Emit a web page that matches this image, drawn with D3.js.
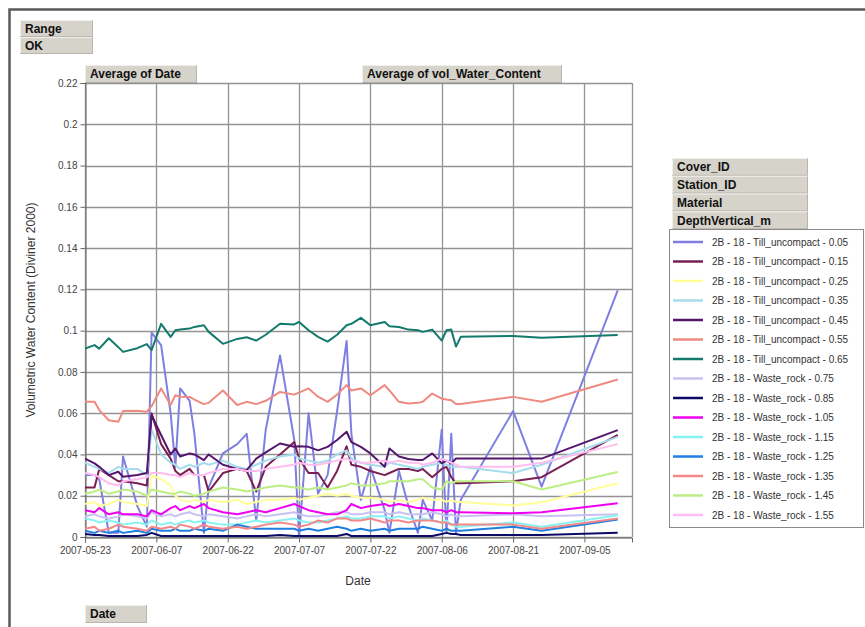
<!DOCTYPE html>
<html><head><meta charset="utf-8">
<script src="https://cdn.jsdelivr.net/npm/d3@7"></script>
<style>
body{margin:0;background:#fff}
svg{display:block;font-family:Arial,"Liberation Sans",sans-serif}
</style>
</head><body>
<svg id="c" width="865" height="627"></svg>
<script>
// ---------- DATA ----------
const dates = ["2007-05-23","2007-05-25","2007-05-26","2007-05-28","2007-05-30","2007-05-31","2007-06-03","2007-06-05","2007-06-06","2007-06-08",
"2007-06-10","2007-06-11","2007-06-12","2007-06-14","2007-06-15","2007-06-17","2007-06-18","2007-06-21","2007-06-24","2007-06-26",
"2007-06-28","2007-06-30","2007-07-03","2007-07-06","2007-07-07","2007-07-09","2007-07-11","2007-07-13","2007-07-15","2007-07-17",
"2007-07-18","2007-07-20","2007-07-22","2007-07-25","2007-07-26","2007-07-28","2007-07-30","2007-08-01","2007-08-02","2007-08-04",
"2007-08-06","2007-08-07","2007-08-08","2007-08-09","2007-08-10","2007-08-21","2007-08-27","2007-09-12"];

const seriesNames = ["2B - 18 - Till_uncompact - 0.05","2B - 18 - Till_uncompact - 0.15","2B - 18 - Till_uncompact - 0.25",
"2B - 18 - Till_uncompact - 0.35","2B - 18 - Till_uncompact - 0.45","2B - 18 - Till_uncompact - 0.55","2B - 18 - Till_uncompact - 0.65",
"2B - 18 - Waste_rock - 0.75","2B - 18 - Waste_rock - 0.85","2B - 18 - Waste_rock - 1.05","2B - 18 - Waste_rock - 1.15",
"2B - 18 - Waste_rock - 1.25","2B - 18 - Waste_rock - 1.35","2B - 18 - Waste_rock - 1.45","2B - 18 - Waste_rock - 1.55"];

const seriesColors = ["#7f7fe2","#7a1f52","#ffff99","#a6dcec","#55166e","#ef8a80","#137a6c",
"#c7c2f2","#0b0b66","#f000f0","#88f2f2","#1f7fe0","#f28888","#bdee84","#ffbdf0"];

const v005 = [0.030,0.030,0.028,0.002,0.002,0.039,0.015,0.005,0.099,0.093,0.060,0.034,0.072,0.066,0.050,0.002,0.024,0.0405,0.045,0.050,
0.008,0.052,0.088,0.047,0.000,0.060,0.021,0.030,0.061,0.095,0.050,0.018,0.034,0.013,0.002,0.032,0.015,0.002,0.018,0.008,
0.052,0.002,0.050,0.002,0.018,0.061,0.0244,0.1195];
const v015 = [0.024,0.024,0.033,0.030,0.027,0.027,0.026,0.025,0.060,0.045,0.038,0.032,0.030,0.033,0.030,0.030,0.022,0.031,0.033,0.032,
0.022,0.034,0.040,0.046,0.038,0.031,0.031,0.024,0.032,0.044,0.035,0.034,0.032,0.030,0.031,0.033,0.033,0.032,0.033,0.029,
0.033,0.034,0.029,0.026,0.026,0.027,0.029,0.0495];
const v025 = [0.016,0.017,0.015,0.016,0.018,0.017,0.016,0.015,0.030,0.028,0.025,0.020,0.018,0.017,0.018,0.017,0.018,0.017,0.018,0.016,
0.017,0.018,0.018,0.019,0.018,0.019,0.020,0.021,0.020,0.021,0.020,0.019,0.019,0.018,0.017,0.018,0.017,0.018,0.019,0.018,
0.018,0.017,0.018,0.017,0.017,0.0153,0.0168,0.026];
const v035 = [0.036,0.034,0.033,0.031,0.034,0.033,0.033,0.030,0.052,0.040,0.036,0.035,0.033,0.035,0.034,0.036,0.035,0.037,0.034,0.033,
0.035,0.037,0.039,0.040,0.038,0.037,0.036,0.037,0.040,0.042,0.038,0.036,0.035,0.034,0.036,0.035,0.034,0.033,0.034,0.035,
0.036,0.035,0.034,0.034,0.034,0.031,0.035,0.0485];
const v045 = [0.038,0.0357,0.034,0.030,0.0316,0.0292,0.030,0.031,0.059,0.0494,0.040,0.0429,0.039,0.0405,0.040,0.0373,0.040,0.035,0.033,0.0324,
0.038,0.041,0.0453,0.0437,0.044,0.0437,0.042,0.0437,0.047,0.051,0.046,0.0437,0.0405,0.034,0.0429,0.039,0.0378,0.0373,0.0373,0.0405,
0.0357,0.037,0.0357,0.038,0.038,0.038,0.038,0.0518];
const v055 = [0.0655,0.0655,0.0615,0.0566,0.0558,0.061,0.0612,0.0607,0.0634,0.072,0.064,0.0687,0.068,0.0679,0.0666,0.0644,0.065,0.071,0.064,0.0655,
0.0644,0.066,0.0703,0.069,0.070,0.072,0.068,0.0655,0.069,0.0736,0.071,0.072,0.0687,0.0736,0.071,0.0655,0.0647,0.065,0.0655,0.0695,
0.067,0.0666,0.0663,0.0644,0.0644,0.0679,0.0655,0.0763];
const v065 = [0.0913,0.093,0.0913,0.0963,0.092,0.0897,0.0915,0.0935,0.0905,0.1033,0.097,0.1002,0.1005,0.101,0.1018,0.1026,0.0994,0.0936,0.096,0.0968,
0.0952,0.098,0.1033,0.103,0.1042,0.1002,0.097,0.0947,0.098,0.1026,0.1033,0.1062,0.1026,0.1042,0.1021,0.1018,0.1005,0.1002,0.0994,0.1005,
0.0952,0.1002,0.1005,0.0923,0.097,0.0974,0.0966,0.0979];
const v075 = [0.010,0.011,0.010,0.009,0.010,0.011,0.010,0.009,0.012,0.010,0.011,0.010,0.011,0.012,0.011,0.010,0.011,0.010,0.009,0.010,
0.011,0.010,0.011,0.012,0.011,0.010,0.010,0.011,0.012,0.012,0.011,0.011,0.012,0.012,0.011,0.012,0.011,0.011,0.011,0.012,
0.011,0.010,0.011,0.010,0.010,0.011,0.010,0.011];
const v085 = [0.0015,0.001,0.001,0.0005,0.0005,0.0005,0.0005,0.001,0.002,0.0005,0.0005,0.0005,0.0005,0.0005,0.0005,0.0005,0.0005,0.0005,0.0005,0.0005,
0.0005,0.0005,0.001,0.0005,0.0005,0.0005,0.0005,0.0005,0.0005,0.0015,0.0005,0.0005,0.0005,0.0005,0.0005,0.0005,0.0005,0.0005,0.0005,0.0005,
0.0015,0.002,0.0015,0.0015,0.001,0.001,0.001,0.002];
const v105 = [0.013,0.012,0.014,0.011,0.012,0.011,0.011,0.010,0.013,0.011,0.014,0.015,0.013,0.015,0.014,0.016,0.014,0.012,0.011,0.012,
0.013,0.012,0.014,0.016,0.015,0.013,0.012,0.011,0.011,0.013,0.016,0.014,0.015,0.016,0.015,0.016,0.015,0.014,0.014,0.013,
0.013,0.012,0.013,0.012,0.012,0.0115,0.012,0.0163];
const v115 = [0.009,0.008,0.007,0.008,0.007,0.006,0.007,0.006,0.008,0.006,0.007,0.006,0.007,0.008,0.007,0.008,0.007,0.006,0.006,0.007,
0.008,0.007,0.008,0.009,0.008,0.007,0.007,0.008,0.009,0.010,0.009,0.009,0.010,0.010,0.009,0.010,0.009,0.008,0.009,0.008,
0.007,0.008,0.006,0.005,0.005,0.007,0.005,0.0105];
const v125 = [0.003,0.002,0.003,0.002,0.003,0.002,0.003,0.002,0.004,0.003,0.003,0.004,0.003,0.003,0.004,0.003,0.004,0.003,0.006,0.005,
0.004,0.004,0.004,0.004,0.003,0.004,0.003,0.004,0.005,0.004,0.003,0.004,0.003,0.004,0.003,0.004,0.004,0.004,0.005,0.004,
0.003,0.004,0.003,0.003,0.003,0.005,0.003,0.0085];
const v135 = [0.004,0.005,0.003,0.004,0.006,0.005,0.004,0.003,0.005,0.004,0.005,0.004,0.006,0.005,0.004,0.006,0.005,0.004,0.005,0.004,
0.005,0.006,0.007,0.006,0.005,0.006,0.008,0.007,0.009,0.009,0.008,0.008,0.009,0.007,0.008,0.008,0.007,0.008,0.008,0.008,
0.007,0.007,0.006,0.006,0.006,0.006,0.004,0.009];
const v145 = [0.021,0.022,0.023,0.021,0.022,0.023,0.022,0.020,0.023,0.022,0.021,0.021,0.022,0.021,0.020,0.021,0.022,0.024,0.023,0.022,
0.023,0.024,0.025,0.024,0.024,0.023,0.024,0.023,0.024,0.025,0.026,0.025,0.025,0.026,0.027,0.027,0.027,0.028,0.028,0.024,
0.023,0.027,0.026,0.027,0.027,0.027,0.023,0.0315];
const v155 = [0.031,0.030,0.029,0.026,0.025,0.027,0.028,0.029,0.031,0.031,0.030,0.030,0.029,0.031,0.030,0.030,0.031,0.033,0.033,0.032,
0.032,0.033,0.034,0.035,0.036,0.035,0.035,0.036,0.037,0.038,0.037,0.036,0.036,0.037,0.036,0.037,0.036,0.036,0.035,0.036,
0.038,0.037,0.036,0.035,0.034,0.034,0.036,0.045];

const seriesValues = [v005,v015,v025,v035,v045,v055,v065,v075,v085,v105,v115,v125,v135,v145,v155];

const yTicks = [0,0.02,0.04,0.06,0.08,0.1,0.12,0.14,0.16,0.18,0.2,0.22];
const yTickLabels = ["0","0.02","0.04","0.06","0.08","0.1","0.12","0.14","0.16","0.18","0.2","0.22"];
const xTickLabels = ["2007-05-23","2007-06-07","2007-06-22","2007-07-07","2007-07-22","2007-08-06","2007-08-21","2007-09-05"];
const xDomain = ["2007-05-23","2007-09-15"];
const fieldButtons = ["Cover_ID","Station_ID","Material","DepthVertical_m"];

// ---------- DRAW ----------
const parse = d3.timeParse("%Y-%m-%d");
const svg = d3.select("#c");
const L = 85, R = 632, T = 83, B = 537;

const x = d3.scaleTime().domain(xDomain.map(parse)).range([L, R]);
const y = d3.scaleLinear().domain([0, 0.22]).range([B, T]);

// outer frame
svg.append("path").attr("d", "M9.5,627 V9.5 H865").attr("fill","none")
  .attr("stroke","#5a5a5a").attr("stroke-width",2.5);

function button(bx, by, w, h, label) {
  const g = svg.append("g");
  g.append("rect").attr("x",bx).attr("y",by).attr("width",w).attr("height",h).attr("fill","#d6d3cb");
  g.append("path").attr("d",`M${bx+0.5},${by+h-0.5} V${by+0.5} H${bx+w-0.5}`).attr("fill","none").attr("stroke","#f0efea");
  g.append("path").attr("d",`M${bx+0.5},${by+h-0.5} H${bx+w-0.5} V${by+0.5}`).attr("fill","none").attr("stroke","#b8b5ad");
  g.append("text").attr("x",bx+5).attr("y",by+h/2).attr("dy","0.36em")
    .attr("font-size",12).attr("font-weight","bold").attr("fill","#111").text(label);
}
button(20,20,73,17,"Range");
button(20,37,73,17,"OK");
button(85,65,112,18,"Average of Date");
button(362,65,200,18,"Average of vol_Water_Content");
button(85,605,62,18,"Date");
fieldButtons.forEach((f,i)=>button(672,158+i*17.8,136,17.8,f));

// grid
const xTicks = xTickLabels.map(parse);
svg.append("g").selectAll("line").data(yTicks).join("line")
  .attr("x1",L).attr("x2",R).attr("y1",d=>Math.round(y(d))+0.5).attr("y2",d=>Math.round(y(d))+0.5)
  .attr("stroke","#939393").attr("stroke-width",1.3);
svg.append("g").selectAll("line").data(xTicks).join("line")
  .attr("y1",T).attr("y2",B).attr("x1",d=>Math.round(x(d))+0.5).attr("x2",d=>Math.round(x(d))+0.5)
  .attr("stroke","#939393").attr("stroke-width",1.3);
svg.append("line").attr("x1",R+0.5).attr("x2",R+0.5).attr("y1",T).attr("y2",B)
  .attr("stroke","#939393").attr("stroke-width",1.3);

// axes
const yAxis = d3.axisLeft(y).tickValues(yTicks).tickFormat((d,i)=>yTickLabels[i]).tickSize(5).tickPadding(3);
const gy = svg.append("g").attr("transform",`translate(${L+0.5},0)`).call(yAxis);
const xAxis = d3.axisBottom(x).tickValues(xTicks).tickFormat((d,i)=>xTickLabels[i]).tickSize(5).tickPadding(4);
const gx = svg.append("g").attr("transform",`translate(0,${B+0.5})`).call(xAxis);
[gx,gy].forEach(g=>{
  g.select(".domain").attr("stroke","#666");
  g.selectAll(".tick line").attr("stroke","#666");
  g.selectAll(".tick text").attr("font-size",10).attr("fill","#444").attr("font-family","Arial, 'Liberation Sans', sans-serif");
});

// series
const clip = svg.append("clipPath").attr("id","pc").append("rect")
  .attr("x",L).attr("y",T-2).attr("width",R-L).attr("height",B-T+3);
const line = d3.line().x(d=>x(d[0])).y(d=>y(d[1]));
const pdates = dates.map(parse);
const gl = svg.append("g").attr("clip-path","url(#pc)");
seriesValues.forEach((vals,i)=>{
  const pts = vals.map((v,j)=>[pdates[j],v]).filter(p=>p[0]);
  gl.append("path").attr("d",line(pts)).attr("fill","none")
    .attr("stroke",seriesColors[i]).attr("stroke-width",2).attr("stroke-linejoin","round");
});

// axis titles
svg.append("text").attr("transform","translate(35,310) rotate(-90)").attr("text-anchor","middle")
  .attr("font-size",12).attr("fill","#333").text("Volumetric Water Content (Diviner 2000)");
svg.append("text").attr("x",358).attr("y",585).attr("text-anchor","middle")
  .attr("font-size",12).attr("fill","#333").text("Date");

// legend
const lg = svg.append("g");
lg.append("rect").attr("x",669.5).attr("y",229.5).attr("width",194).attr("height",298)
  .attr("fill","#fff").attr("stroke","#8a8a8a");
seriesNames.forEach((n,i)=>{
  const cy = 242 + i*19.5;
  lg.append("line").attr("x1",673).attr("x2",703).attr("y1",cy).attr("y2",cy)
    .attr("stroke",seriesColors[i]).attr("stroke-width",2.5);
  lg.append("text").attr("x",712).attr("y",cy).attr("dy","0.35em")
    .attr("font-size",10).attr("fill","#333").text(n);
});
</script>
</body></html>
